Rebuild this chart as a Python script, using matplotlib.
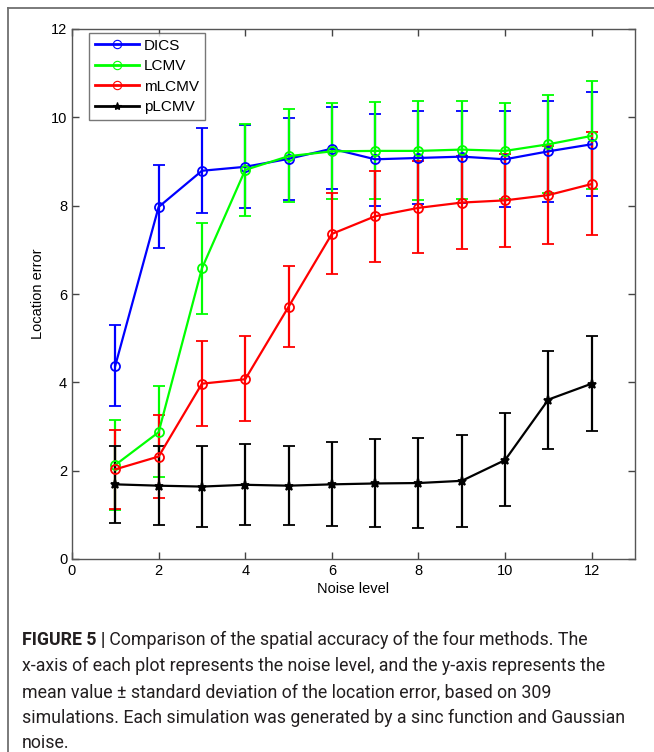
import matplotlib
matplotlib.use("Agg")
import matplotlib.pyplot as plt
from matplotlib.lines import Line2D
import numpy as np

noise_levels = [1, 2, 3, 4, 5, 6, 7, 8, 9, 10, 11, 12]

dics_mean = [4.38, 7.97, 8.79, 8.88, 9.06, 9.29, 9.05, 9.08, 9.11, 9.05, 9.23, 9.39]
dics_low  = [3.47, 7.04, 7.84, 7.94, 8.12, 8.37, 8.00, 8.04, 8.07, 7.96, 8.08, 8.22]
dics_up   = [5.30, 8.92, 9.76, 9.83, 9.99, 10.24, 10.08, 10.14, 10.15, 10.14, 10.37, 10.57]

lcmv_mean = [2.13, 2.87, 6.58, 8.81, 9.12, 9.23, 9.24, 9.24, 9.27, 9.24, 9.39, 9.58]
lcmv_low  = [1.12, 1.85, 5.55, 7.76, 8.08, 8.14, 8.16, 8.12, 8.16, 8.16, 8.28, 8.37]
lcmv_up   = [3.14, 3.91, 7.61, 9.86, 10.20, 10.33, 10.35, 10.36, 10.36, 10.33, 10.51, 10.82]

mlcmv_mean = [2.03, 2.32, 3.97, 4.07, 5.71, 7.36, 7.76, 7.95, 8.07, 8.12, 8.24, 8.49]
mlcmv_low  = [1.13, 1.39, 3.02, 3.13, 4.81, 6.46, 6.73, 6.92, 7.02, 7.07, 7.14, 7.34]
mlcmv_up   = [2.91, 3.25, 4.93, 5.06, 6.63, 8.29, 8.79, 9.01, 9.12, 9.18, 9.35, 9.67]

plcmv_mean = [1.69, 1.66, 1.64, 1.68, 1.66, 1.69, 1.71, 1.72, 1.77, 2.24, 3.61, 3.97]
plcmv_low  = [0.81, 0.76, 0.73, 0.76, 0.76, 0.75, 0.72, 0.70, 0.73, 1.20, 2.50, 2.89]
plcmv_up   = [2.56, 2.56, 2.56, 2.61, 2.55, 2.65, 2.71, 2.74, 2.81, 3.30, 4.71, 5.06]

series_names = ["DICS", "LCMV", "mLCMV", "pLCMV"]
x_ticks = [0, 2, 4, 6, 8, 10, 12]
y_ticks = [0, 2, 4, 6, 8, 10, 12]

caption_bold = "FIGURE 5 |"
caption_lines = [
    " Comparison of the spatial accuracy of the four methods. The",
    "x-axis of each plot represents the noise level, and the y-axis represents the",
    "mean value \u00b1 standard deviation of the location error, based on 309",
    "simulations. Each simulation was generated by a sinc function and Gaussian",
    "noise.",
]

W, H = 654, 752
fig = plt.figure(figsize=(W / 100, H / 100), dpi=100)
fig.patch.set_facecolor("white")

# outer frame lines
fig.add_artist(Line2D([8 / W, 8 / W], [0, 1 - 8 / H], transform=fig.transFigure,
                      color="#707070", lw=1.3))
fig.add_artist(Line2D([8 / W, 1], [1 - 8 / H, 1 - 8 / H], transform=fig.transFigure,
                      color="#707070", lw=1.3))

ax = fig.add_axes([72 / W, (H - 559) / H, (635 - 72) / W, (559 - 29) / H])

styles = [
    (series_names[0], dics_mean, dics_low, dics_up, "#0000ff", "o"),
    (series_names[1], lcmv_mean, lcmv_low, lcmv_up, "#00ff00", "o"),
    (series_names[2], mlcmv_mean, mlcmv_low, mlcmv_up, "#ff0000", "o"),
    (series_names[3], plcmv_mean, plcmv_low, plcmv_up, "#000000", "*"),
]

x = np.array(noise_levels)
handles = []
for name, m, lo, up, col, mk in styles:
    m = np.array(m); lo = np.array(lo); up = np.array(up)
    yerr = np.vstack([m - lo, up - m])
    ax.errorbar(x, m, yerr=yerr, color=col, ecolor=col, elinewidth=1.6,
                capsize=4, capthick=1.6, lw=1.6, marker=mk, ms=6.5,
                mfc="none" if mk == "o" else col, mec=col, mew=1.3)
    handles.append(Line2D([0], [0], color=col, lw=2.0, marker=mk, ms=6,
                          mfc="none" if mk == "o" else col, mec=col, mew=0.8))

ax.set_xlim(0, 13)
ax.set_ylim(0, 12)
ax.set_xticks(x_ticks)
ax.set_yticks(y_ticks)
ax.tick_params(direction="in", length=5, top=True, right=True, labelsize=10.5,
               colors="#444444", labelcolor="black", width=1)
for sp in ax.spines.values():
    sp.set_color("#555555")
    sp.set_linewidth(1.0)
for lab in ax.get_xticklabels() + ax.get_yticklabels():
    lab.set_fontfamily("Liberation Sans")

ax.set_xlabel("Noise level", fontsize=10.5, fontfamily="Liberation Sans", labelpad=3)
ax.set_ylabel("Location error", fontsize=10.5, fontfamily="Liberation Sans", labelpad=4)

leg = ax.legend(handles, series_names, loc="upper left", bbox_to_anchor=(0.030, 0.993),
                prop={"family": "Liberation Sans", "size": 11}, frameon=True,
                fancybox=False, edgecolor="#555555", handlelength=2.9,
                handletextpad=0.3, borderpad=0.4, labelspacing=0.42, borderaxespad=0)
leg.get_frame().set_linewidth(1.0)

# caption
cap_color = "#231f20"
cap_size = 12.8
fam = "Roboto"
x0 = 22 / W
ys = [640, 666, 692, 718, 743]
tb = fig.text(x0, 1 - ys[0] / H, caption_bold, fontsize=cap_size, fontweight="bold",
              fontfamily=fam, color=cap_color, va="center")
fig.canvas.draw()
bb = tb.get_window_extent(renderer=fig.canvas.get_renderer())
fig.text(bb.x1 / W, 1 - ys[0] / H, caption_lines[0], fontsize=cap_size,
         fontfamily=fam, color=cap_color, va="center")
for line, yy in zip(caption_lines[1:], ys[1:]):
    fig.text(x0, 1 - yy / H, line, fontsize=cap_size, fontfamily=fam,
             color=cap_color, va="center")

fig.savefig("out.png", dpi=100)
